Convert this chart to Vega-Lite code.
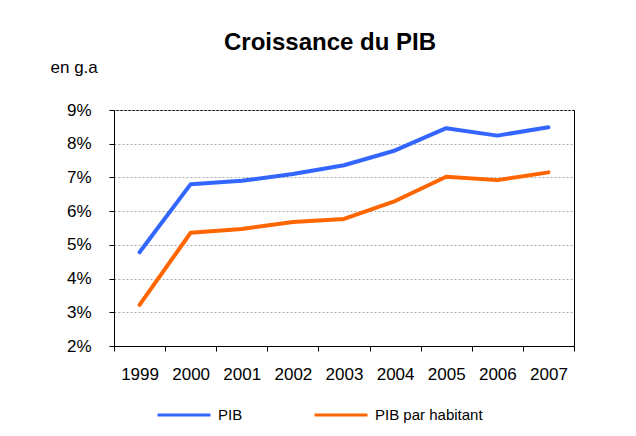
{
  "$schema": "https://vega.github.io/schema/vega-lite/v6.json",
  "width": 460,
  "height": 236,
  "autosize": {"type": "none"},
  "padding": {"left": 114, "top": 110, "right": 62, "bottom": 90},
  "background": "white",
  "title": {"text": "Croissance du PIB", "fontSize": 24, "fontWeight": "bold", "font": "Liberation Sans", "color": "#000", "anchor": "middle", "dx": -14, "offset": 3, "frame": "group"},
  "config": {
    "view": {"stroke": "#000", "strokeWidth": 1},
    "axis": {"labelFont": "Liberation Sans", "titleFont": "Liberation Sans", "labelColor": "#000", "domainColor": "#000", "tickColor": "#000", "labelFontSize": 17}
  },
  "data": {"values": [
    {"annee": "1999", "serie": "PIB", "valeur": 4.78},
    {"annee": "2000", "serie": "PIB", "valeur": 6.8},
    {"annee": "2001", "serie": "PIB", "valeur": 6.9},
    {"annee": "2002", "serie": "PIB", "valeur": 7.1},
    {"annee": "2003", "serie": "PIB", "valeur": 7.36},
    {"annee": "2004", "serie": "PIB", "valeur": 7.8},
    {"annee": "2005", "serie": "PIB", "valeur": 8.46},
    {"annee": "2006", "serie": "PIB", "valeur": 8.24},
    {"annee": "2007", "serie": "PIB", "valeur": 8.49},
    {"annee": "1999", "serie": "PIB par habitant", "valeur": 3.22},
    {"annee": "2000", "serie": "PIB par habitant", "valeur": 5.36},
    {"annee": "2001", "serie": "PIB par habitant", "valeur": 5.47},
    {"annee": "2002", "serie": "PIB par habitant", "valeur": 5.68},
    {"annee": "2003", "serie": "PIB par habitant", "valeur": 5.77},
    {"annee": "2004", "serie": "PIB par habitant", "valeur": 6.3},
    {"annee": "2005", "serie": "PIB par habitant", "valeur": 7.02},
    {"annee": "2006", "serie": "PIB par habitant", "valeur": 6.92},
    {"annee": "2007", "serie": "PIB par habitant", "valeur": 7.15}
  ]},
  "mark": {"type": "line", "strokeWidth": 4, "strokeCap": "round", "strokeJoin": "round"},
  "encoding": {
    "x": {
      "field": "annee", "type": "ordinal", "bandPosition": 0.5,
      "scale": {"type": "band", "paddingInner": 0, "paddingOuter": 0},
      "axis": {"title": null, "labelAngle": 0, "tickBand": "extent", "tickSize": 5, "labelPadding": 15, "grid": false}
    },
    "y": {
      "field": "valeur", "type": "quantitative",
      "scale": {"domain": [2, 9], "nice": false, "zero": false},
      "axis": {
        "title": "en g.a", "titleAngle": 0, "titleX": -64, "titleY": -43, "titleAlign": "left", "titleBaseline": "middle", "titleFontSize": 17, "titleFontWeight": "normal", "titleColor": "#000",
        "values": [2, 3, 4, 5, 6, 7, 8, 9], "labelExpr": "datum.value + '%'", "tickSize": 5, "labelPadding": 18,
        "grid": true, "gridDash": [2, 2], "gridColor": "#aaa", "gridWidth": 1
      }
    },
    "color": {
      "field": "serie", "type": "nominal",
      "scale": {"domain": ["PIB", "PIB par habitant"], "range": ["#3366FF", "#FF6600"]},
      "legend": {
        "title": null, "orient": "none", "legendX": 42, "legendY": 277, "direction": "horizontal",
        "symbolType": "stroke", "symbolSize": 2809, "symbolStrokeWidth": 3, "labelFontSize": 15, "labelFont": "Liberation Sans", "labelColor": "#000", "labelOffset": 6, "columnPadding": 65
      }
    }
  }
}
